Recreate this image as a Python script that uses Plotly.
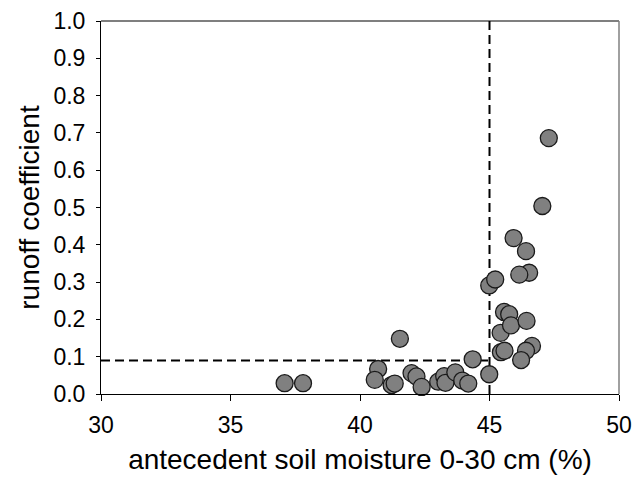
import plotly.graph_objects as go

soil_moisture = [37.09, 37.80, 40.70, 40.57, 41.22, 41.34, 41.54, 41.99, 42.18, 42.38,
                 43.02, 43.25, 43.30, 43.68, 43.95, 44.18, 44.35, 44.99,
                 44.99, 45.22, 45.43, 45.44, 45.58, 45.56, 45.76, 45.83, 46.43,
                 46.64, 46.41, 46.22, 46.53, 46.15, 46.41, 45.93, 47.04, 47.29]
runoff_coef = [0.029, 0.029, 0.067, 0.038, 0.024, 0.028, 0.148, 0.056, 0.047, 0.019,
               0.033, 0.048, 0.030, 0.058, 0.036, 0.028, 0.093, 0.053,
               0.291, 0.307, 0.164, 0.112, 0.116, 0.220, 0.214, 0.184, 0.196,
               0.129, 0.116, 0.091, 0.325, 0.320, 0.383, 0.418, 0.504, 0.686]
threshold_x = 45
threshold_y = 0.09

fig = go.Figure()
fig.add_trace(go.Scatter(
    x=soil_moisture, y=runoff_coef, mode="markers",
    marker=dict(size=17, color="#808080", line=dict(color="#1a1a1a", width=1.3)),
    showlegend=False, cliponaxis=False))

# threshold dashed lines
fig.add_shape(type="line", x0=30, x1=threshold_x, y0=threshold_y, y1=threshold_y,
              xref="x", yref="y", line=dict(color="black", width=2, dash="9px,5px"), layer="below")
fig.add_shape(type="line", x0=threshold_x, x1=threshold_x, y0=0, y1=1,
              xref="x", yref="y", line=dict(color="black", width=2, dash="9px,5px"), layer="below")
# frame: top black, right gray
fig.add_shape(type="line", x0=0, x1=1, y0=1, y1=1, xref="paper", yref="paper",
              line=dict(color="black", width=1.2))
fig.add_shape(type="line", x0=1, x1=1, y0=0, y1=1, xref="paper", yref="paper",
              line=dict(color="#808080", width=1.5))

font_family = "Liberation Sans, Arial, sans-serif"
fig.update_layout(
    width=633, height=481,
    margin=dict(l=101, r=14, t=21, b=87, autoexpand=False),
    paper_bgcolor="white", plot_bgcolor="white",
    font=dict(family=font_family, color="black", size=23),
    xaxis=dict(range=[30, 50], dtick=5, tick0=30, showgrid=False, zeroline=False,
               showline=True, linecolor="black", linewidth=1, automargin=False,
               ticks="outside", ticklen=6, tickcolor="black",
               tickfont=dict(size=23), ticklabelstandoff=4,
               title=dict(text="antecedent soil moisture 0-30 cm (%)", font=dict(size=28), standoff=12)),
    yaxis=dict(range=[0, 1.0], dtick=0.1, tick0=0, tickformat=".1f", showgrid=False, zeroline=False,
               showline=True, linecolor="black", linewidth=1, automargin=False,
               ticks="outside", ticklen=4, tickcolor="black",
               tickfont=dict(size=23), ticklabelstandoff=6,
               title=dict(text="runoff coefficient", font=dict(size=28), standoff=5)),
)
fig.write_html("out.html")
